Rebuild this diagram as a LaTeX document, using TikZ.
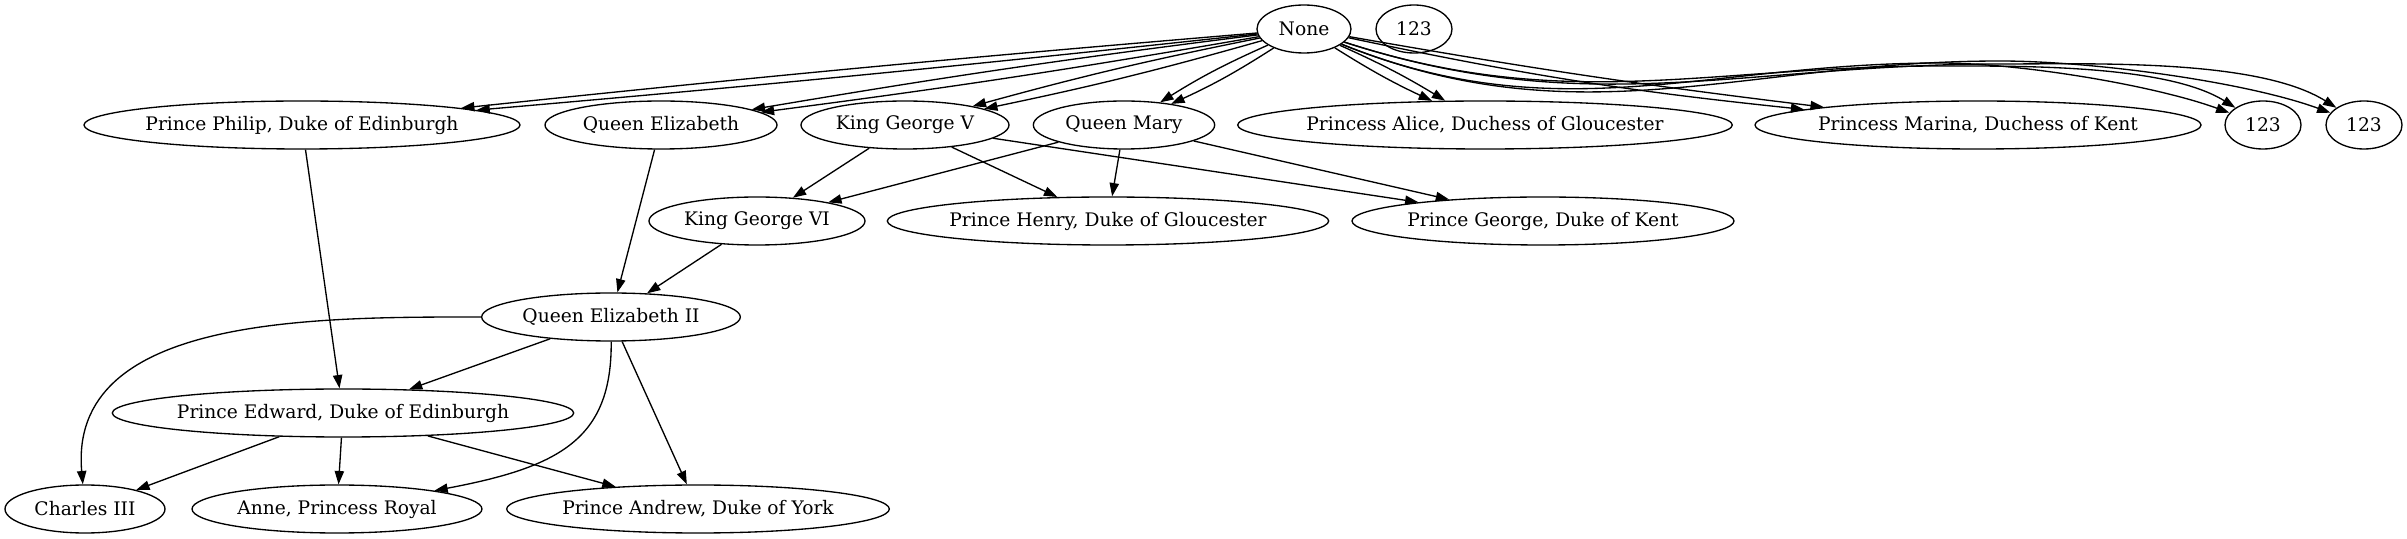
\documentclass[tikz,border=0pt]{standalone}
\usepackage{fontspec}
\setmainfont{DejaVu Serif}
\usetikzlibrary{arrows.meta,shapes.geometric}
\tikzset{
	>={Triangle[length=10pt,width=7pt]},
	person/.style={
		ellipse,
		draw, line width=1pt,
		minimum height=36pt,
		minimum width=54pt,
		inner xsep=-8pt, inner ysep=0pt,
		font=\fontsize{14pt}{16pt}\selectfont},
	line/.style={draw, line width=1pt, ->},
}

\begin{document}
\begin{tikzpicture}[x=0.75pt,y=0.75pt]
\useasboundingbox (0,0) rectangle (2407,539);

\node[person, minimum width=70.5pt] (none) at (1304,510) {None};
\node[person, minimum width=57pt] (orphan) at (1414,510) {123};

\node[person, minimum width=327pt] (philip) at (302,414) {Prince Philip, Duke of Edinburgh};
\node[person, minimum width=174pt] (elizabeth) at (661,414) {Queen Elizabeth};
\node[person, minimum width=156pt] (george5) at (905,414) {King George V};
\node[person, minimum width=136pt] (mary) at (1124,414) {Queen Mary};
\node[person, minimum width=371pt] (alice) at (1485,414) {Princess Alice, Duchess of Gloucester};
\node[person, minimum width=334.5pt] (marina) at (1978,414) {Princess Marina, Duchess of Kent};
\node[person, minimum width=57pt] (extraA) at (2263,414) {123};
\node[person, minimum width=57pt] (extraB) at (2364,414) {123};

\node[person, minimum width=162pt] (george6) at (757,318) {King George VI};
\node[person, minimum width=331pt] (henry) at (1108,318) {Prince Henry, Duke of Gloucester};
\node[person, minimum width=286.5pt] (georgek) at (1543,318) {Prince George, Duke of Kent};

\node[person, minimum width=194pt] (elizabeth2) at (611,222) {Queen Elizabeth II};

\node[person, minimum width=346pt] (edward) at (343,126) {Prince Edward, Duke of Edinburgh};

\node[person, minimum width=120pt] (charles) at (85,30) {Charles III};
\node[person, minimum width=217.5pt] (anne) at (337,30) {Anne, Princess Royal};
\node[person, minimum width=287pt] (andrew) at (698,30) {Prince Andrew, Duke of York};

% waypoints over Marina
\coordinate (hopA1) at (1940,473);
\coordinate (hopA2) at (1940,476);
\coordinate (hopB1) at (2000,475);
\coordinate (hopB2) at (2000,478);

% doubled links from None
\path[line] (none) to[bend right=0.6] (philip);
\path[line] (none) to[bend left=0.6] (philip);
\path[line] (none) to[bend right=1.2] (elizabeth);
\path[line] (none) to[bend left=1.2] (elizabeth);
\path[line] (none) to[bend right=2] (george5);
\path[line] (none) to[bend left=2] (george5);
\path[line] (none) to[bend right=4] (mary);
\path[line] (none) to[bend left=4] (mary);
\path[line] (none) to[bend right=3.5] (alice);
\path[line] (none) to[bend left=3.5] (alice);
\path[line] (none) to[bend right=1.5] (marina);
\path[line] (none) to[bend right=3] (marina);
\path[line] (none) to[out=-18,in=180] (hopA1) to[out=0,in=148,looseness=0.7] (extraA);
\path[line] (none) to[out=-22,in=180] (hopA2) to[out=0,in=160,looseness=0.7] (extraA);
\path[line] (none) to[out=-18,in=180] (hopB1) to[out=0,in=148,looseness=0.7] (extraB);
\path[line] (none) to[out=-22,in=180] (hopB2) to[out=0,in=160,looseness=0.7] (extraB);

\path[line] (philip) -- (edward);
\path[line] (elizabeth) -- (elizabeth2);
\path[line] (george5) -- (george6);
\path[line] (george5) -- (henry);
\path[line] (george5) -- (georgek);
\path[line] (mary) -- (george6);
\path[line] (mary) -- (henry);
\path[line] (mary) -- (georgek);
\path[line] (george6) -- (elizabeth2);

\path[line] (elizabeth2) -- (edward);
\path[line] (elizabeth2) to[out=180,in=95] (charles);
\path[line] (elizabeth2) .. controls (612,100) and (560,72) .. (anne);
\path[line] (elizabeth2) -- (andrew);

\path[line] (edward) -- (charles);
\path[line] (edward) -- (anne);
\path[line] (edward) -- (andrew);
\end{tikzpicture}
\end{document}
